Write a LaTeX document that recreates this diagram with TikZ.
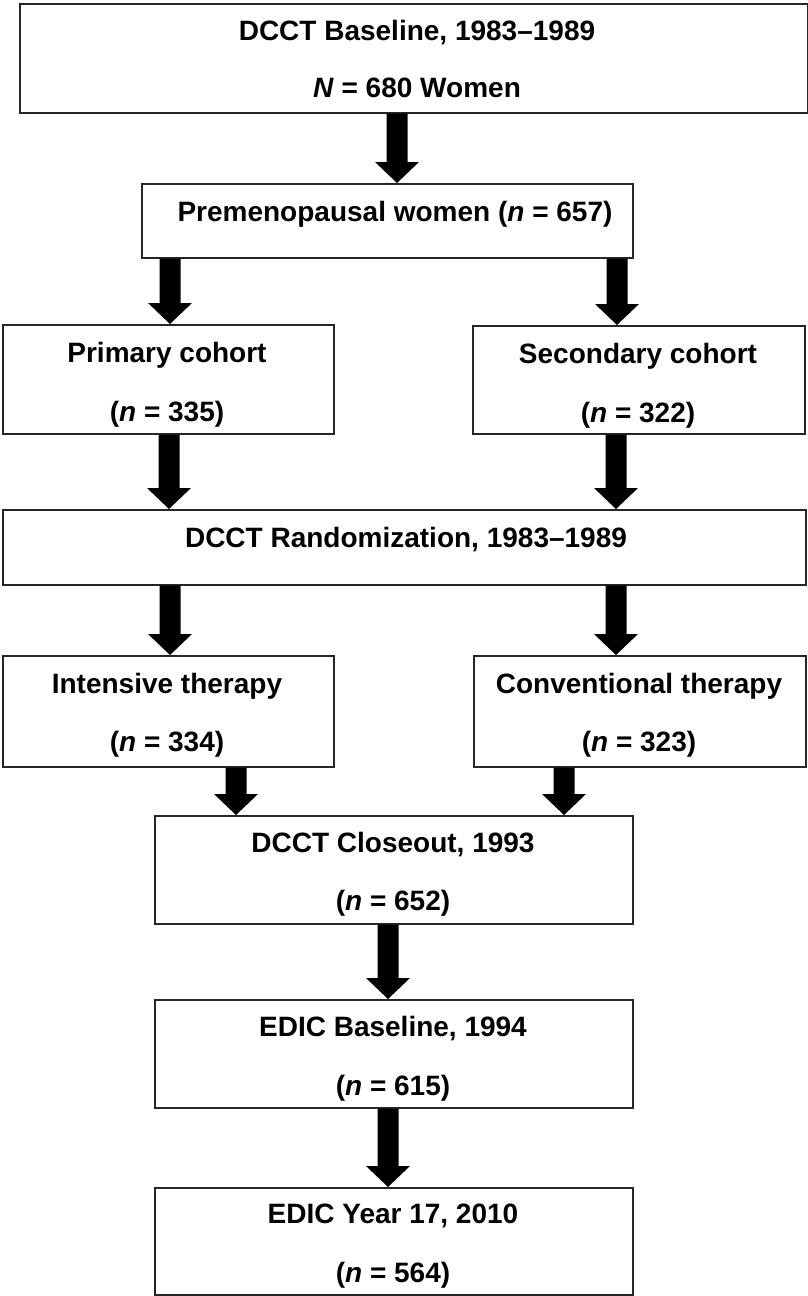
\documentclass[tikz,border=0pt]{standalone}
\usepackage{fontspec}
\setmainfont{Liberation Sans}
\usetikzlibrary{calc}
\tikzset{
  box/.style={draw=black!85, line width=1.6pt, inner sep=0pt, anchor=north west, fill=none},
  lbl/.style={anchor=base, inner sep=0pt, font=\fontsize{28}{34}\selectfont\bfseries},
  blockarrow/.style={fill=black}
}
\newcommand{\barrow}[3]{%
  \coordinate (ArS) at (#1.south -| #3,0);
  \coordinate (ArT) at (#2.north -| #3,0);
  \fill[blockarrow] ($(ArS)+(-10.5,0)$) -- ($(ArS)+(10.5,0)$) -- ($(ArT)+(10.5,-21)$) -- ($(ArT)+(22,-21)$) -- (ArT) -- ($(ArT)+(-22,-21)$) -- ($(ArT)+(-10.5,-21)$) -- cycle;}
\begin{document}
\begin{tikzpicture}[x=1pt,y=-1pt]
\fill[white] (0,0) rectangle (808,1296);
\useasboundingbox (0,0) rectangle (808,1296);
% boxes
\node[box, minimum width=788pt, minimum height=109pt] (b1) at (19,3) {};
\node[box, minimum width=491pt, minimum height=74pt] (b2) at (141,183) {};
\node[box, minimum width=331pt, minimum height=109pt] (b3l) at (2,324) {};
\node[box, minimum width=332pt, minimum height=108pt] (b3r) at (472,325) {};
\node[box, minimum width=803pt, minimum height=75pt] (b4) at (2,509) {};
\node[box, minimum width=331pt, minimum height=111pt] (b5l) at (2,655) {};
\node[box, minimum width=332pt, minimum height=111pt] (b5r) at (473,655) {};
\node[box, minimum width=478pt, minimum height=108pt] (b6) at (154,815) {};
\node[box, minimum width=478pt, minimum height=108pt] (b7) at (154,999) {};
\node[box, minimum width=478pt, minimum height=107pt] (b8) at (154,1187) {};
% texts
\node[lbl] (t1a) at (417,40) {DCCT Baseline, 1983–1989};
\node[lbl] (t1b) at (417,97) {\textit{N} = 680 Women};
\node[lbl] (t2) at (395,221) {Premenopausal women (\textit{n} = 657)};
\node[lbl] (t3la) at (167,362) {Primary cohort};
\node[lbl] (t3lb) at (167,421) {(\textit{n} = 335)};
\node[lbl] (t3ra) at (638,363) {Secondary cohort};
\node[lbl] (t3rb) at (638,422) {(\textit{n} = 322)};
\node[lbl] (t4) at (406,547) {DCCT Randomization, 1983–1989};
\node[lbl] (t5la) at (167,693) {Intensive therapy};
\node[lbl] (t5lb) at (167,751) {(\textit{n} = 334)};
\node[lbl] (t5ra) at (639,693) {Conventional therapy};
\node[lbl] (t5rb) at (639,751) {(\textit{n} = 323)};
\node[lbl] (t6a) at (393,852) {DCCT Closeout, 1993};
\node[lbl] (t6b) at (393,910) {(\textit{n} = 652)};
\node[lbl] (t7a) at (393,1036) {EDIC Baseline, 1994};
\node[lbl] (t7b) at (393,1095) {(\textit{n} = 615)};
\node[lbl] (t8a) at (393,1223) {EDIC Year 17, 2010};
\node[lbl] (t8b) at (393,1282) {(\textit{n} = 564)};
% arrows
\barrow{b1}{b2}{397}
\barrow{b2}{b3l}{170}
\barrow{b2}{b3r}{617}
\barrow{b3l}{b4}{169}
\barrow{b3r}{b4}{616}
\barrow{b4}{b5l}{170}
\barrow{b4}{b5r}{616}
\barrow{b5l}{b6}{236}
\barrow{b5r}{b6}{564}
\barrow{b6}{b7}{388}
\barrow{b7}{b8}{388}
\end{tikzpicture}
\end{document}
